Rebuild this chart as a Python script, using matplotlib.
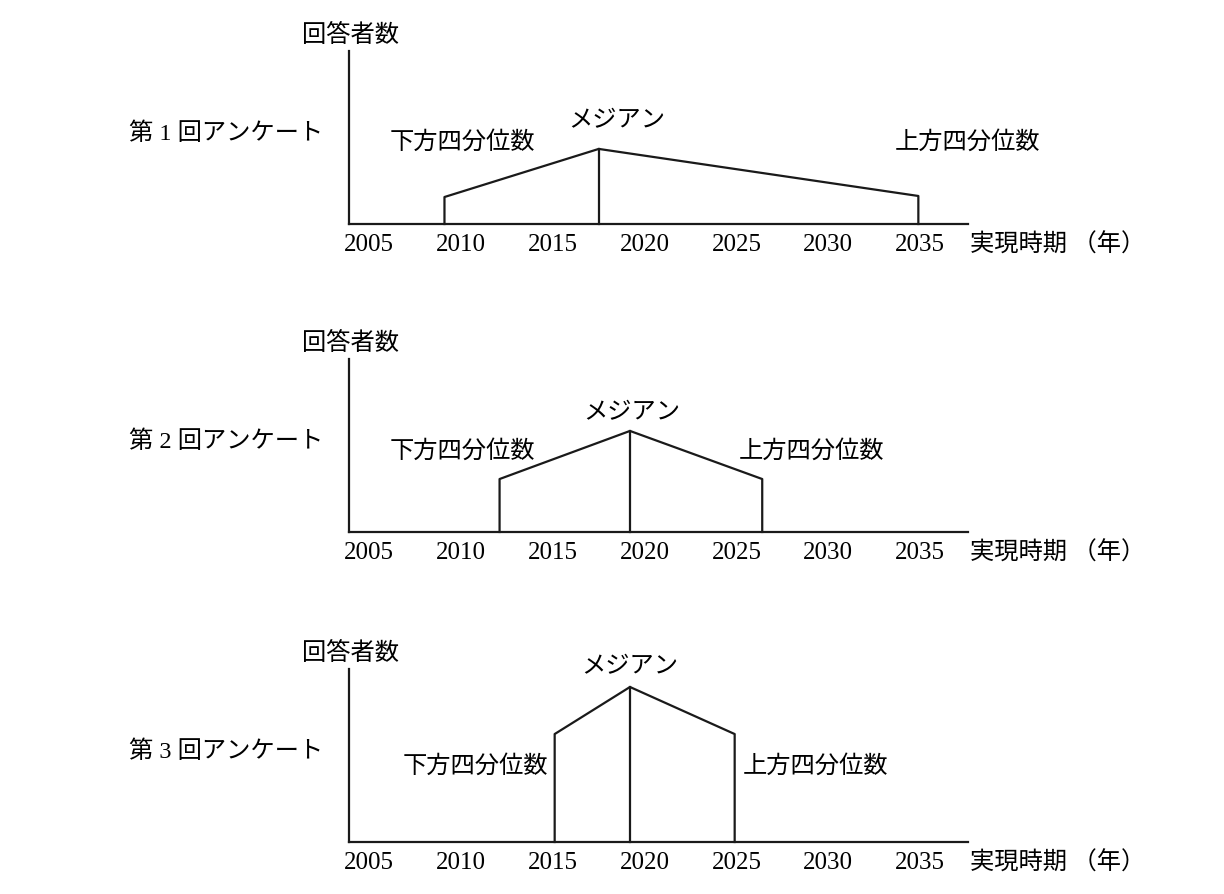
import matplotlib
matplotlib.use("Agg")
import matplotlib.pyplot as plt

# 実現時期の分布（下方四分位数・メジアン・上方四分位数）
surveys = ["第 1 回アンケート", "第 2 回アンケート", "第 3 回アンケート"]
lower_q = [2009.1, 2012.1, 2015.1]
median = [2017.5, 2019.2, 2019.2]
upper_q = [2034.9, 2026.4, 2024.9]
h_lower = [15.6, 30.6, 62.4]
h_median = [43.4, 58.4, 89.6]
h_upper = [16.2, 30.6, 62.4]
years = [2005, 2010, 2015, 2020, 2025, 2030, 2035]

jp = ["Noto Sans CJK JP", "DejaVu Sans"]
mix = ["Liberation Serif", "Noto Sans CJK JP"]
fs = 17.5
fs_num = 18
col = "#1a1a1a"

# label placement (year, height) per panel
lab_lo = [(2010.1, 48), (2010.1, 47.4), (2010.8, 44.5)]
lab_med = [(2018.5, 60.7), (2019.3, 70), (2019.2, 102.3)]
lab_up = [(2037.6, 48), (2029.1, 47.4), (2029.3, 44.5)]

fig = plt.figure(figsize=(12.24, 8.95), dpi=100)
bottoms = [0.7486, 0.4045, 0.0581]

for i in range(3):
    ax = fig.add_axes([0.2851, bottoms[i], 0.5057, 0.1933])
    ax.set_xlim(2003.9, 2037.6)
    ax.set_ylim(0, 100)
    for s in ["top", "right"]:
        ax.spines[s].set_visible(False)
    for s in ["left", "bottom"]:
        ax.spines[s].set_linewidth(1.6)
        ax.spines[s].set_color(col)
    ax.set_yticks([])
    ax.set_xticks(years)
    ax.set_xticklabels([str(y) for y in years], family="Liberation Serif", fontsize=fs_num)
    ax.tick_params(axis="x", length=0, pad=6.5)

    xs = [lower_q[i], lower_q[i], median[i], upper_q[i], upper_q[i]]
    ys = [0, h_lower[i], h_median[i], h_upper[i], 0]
    ax.plot(xs, ys, color=col, lw=1.6, clip_on=False)
    ax.plot([median[i], median[i]], [0, h_median[i]], color=col, lw=1.6, clip_on=False)

    ax.text(lab_lo[i][0], lab_lo[i][1], "下方四分位数", family=jp, fontsize=fs,
            ha="center", va="center")
    ax.text(lab_med[i][0], lab_med[i][1], "メジアン", family=jp, fontsize=fs,
            ha="center", va="center")
    ax.text(lab_up[i][0], lab_up[i][1], "上方四分位数", family=jp, fontsize=fs,
            ha="center", va="center")
    ax.text(1997.2, 53, surveys[i], family=mix, fontsize=fs, ha="center", va="center")
    ax.text(2004.0, 110, "回答者数", family=jp, fontsize=fs, ha="center", va="center")
    ax.text(2037.7, -11.6, "実現時期 （年）", family=jp, fontsize=fs, ha="left", va="center")

fig.savefig("out.png", dpi=100)
